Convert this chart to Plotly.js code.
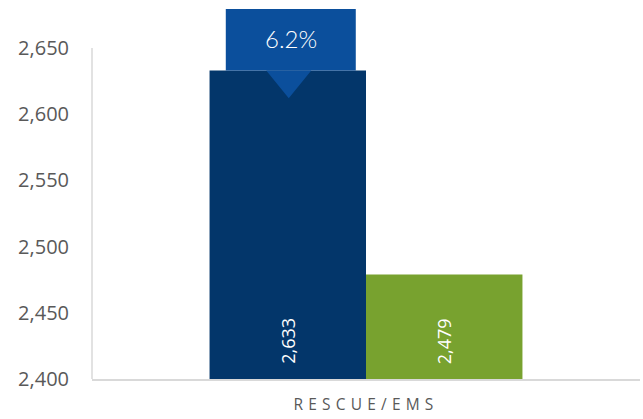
<!DOCTYPE html>
<html>
<head>
<meta charset="utf-8">
<script src="https://cdn.plot.ly/plotly-3.0.1.min.js"></script>
<style>
  html, body { margin: 0; padding: 0; background: #fff; }
  #chart { width: 643px; height: 419px; }
  .xtick text { letter-spacing: 5.2px; }
</style>
</head>
<body>
<div id="chart"></div>
<script>
// ---- data ----
const categories = ['RESCUE/EMS'];
const seriesNames = ['Current', 'Prior'];
const currentValues = [2633];
const priorValues = [2479];
const changeLabel = '6.2%';
const yTickVals = [2400, 2450, 2500, 2550, 2600, 2650];
const yTickText = ['2,400', '2,450', '2,500', '2,550', '2,600', '2,650'];

// ---- styles ----
const navy = '#03366A';
const green = '#78A22F';
const calloutBlue = '#0B4F9C';
const axisGrey = '#D9D9D9';
const textGrey = '#595959';

const bargap = 0.429;
const yMin = 2400, yMax = 2679.5;
const xPos = categories.map((c, i) => i);
const barW = (1 - bargap) / 2;
const navyCenter = xPos[0] - barW / 2;
const greenCenter = xPos[0] + barW / 2;

const fmt = v => v.toLocaleString('en-US');

const traces = [
  { type: 'bar', name: seriesNames[0], x: xPos, y: currentValues.map(v => v - yMin), base: yMin,
    marker: { color: navy }, hoverinfo: 'skip' },
  { type: 'bar', name: seriesNames[1], x: xPos, y: priorValues.map(v => v - yMin), base: yMin,
    marker: { color: green }, hoverinfo: 'skip' }
];

const barTop = currentValues[0];
const shapes = [
  { type: 'line', xref: 'paper', yref: 'y', x0: 0, x1: 0, y0: yMin, y1: yTickVals[yTickVals.length - 1],
    line: { color: axisGrey, width: 1.5 } },
  { type: 'rect', xref: 'x', yref: 'y', x0: navyCenter - 0.1131, x1: navyCenter + 0.1241,
    y0: barTop, y1: yMax, fillcolor: calloutBlue, line: { width: 0 }, layer: 'above' },
  { type: 'path', xref: 'x', yref: 'y',
    path: `M ${navyCenter - 0.0393},${barTop} L ${navyCenter + 0.0429},${barTop} L ${navyCenter + 0.0018},${barTop - 21} Z`,
    fillcolor: calloutBlue, line: { width: 0 }, layer: 'above' }
];

const annotations = [
  { xref: 'x', yref: 'y', x: navyCenter + 0.0055, y: (barTop + yMax) / 2 + 1, text: changeLabel,
    showarrow: false, font: { family: 'Lato, "Open Sans", sans-serif', size: 24, color: '#FFFFFF', weight: 300 } },
  { xref: 'x', yref: 'y', x: navyCenter, y: yMin, yanchor: 'bottom', yshift: 13, textangle: -90,
    text: fmt(currentValues[0]), showarrow: false,
    font: { family: '"Open Sans", sans-serif', size: 18, color: '#FFFFFF' } },
  { xref: 'x', yref: 'y', x: greenCenter, y: yMin, yanchor: 'bottom', yshift: 13, textangle: -90,
    text: fmt(priorValues[0]), showarrow: false,
    font: { family: '"Open Sans", sans-serif', size: 18, color: '#FFFFFF' } }
];

const layout = {
  width: 643, height: 419,
  margin: { l: 92, r: 3, t: 9, b: 40, pad: 0 },
  paper_bgcolor: '#FFFFFF', plot_bgcolor: '#FFFFFF',
  barmode: 'group', bargap: bargap, bargroupgap: 0,
  showlegend: false,
  xaxis: {
    range: [-0.5, 0.5], tickvals: xPos, ticktext: categories,
    showgrid: false, zeroline: false, showline: true, linecolor: axisGrey, linewidth: 1.5,
    ticks: '', ticklabelstandoff: 11,
    tickfont: { family: '"Open Sans", sans-serif', size: 15.5, color: textGrey }
  },
  yaxis: {
    range: [yMin, yMax], tickvals: yTickVals, ticktext: yTickText,
    showgrid: false, zeroline: false, showline: false,
    ticks: '', ticklabelstandoff: 22,
    tickfont: { family: '"Open Sans", sans-serif', size: 20, color: textGrey }
  },
  shapes: shapes,
  annotations: annotations
};

Plotly.newPlot('chart', traces, layout, { displayModeBar: false, staticPlot: true });
</script>
</body>
</html>
